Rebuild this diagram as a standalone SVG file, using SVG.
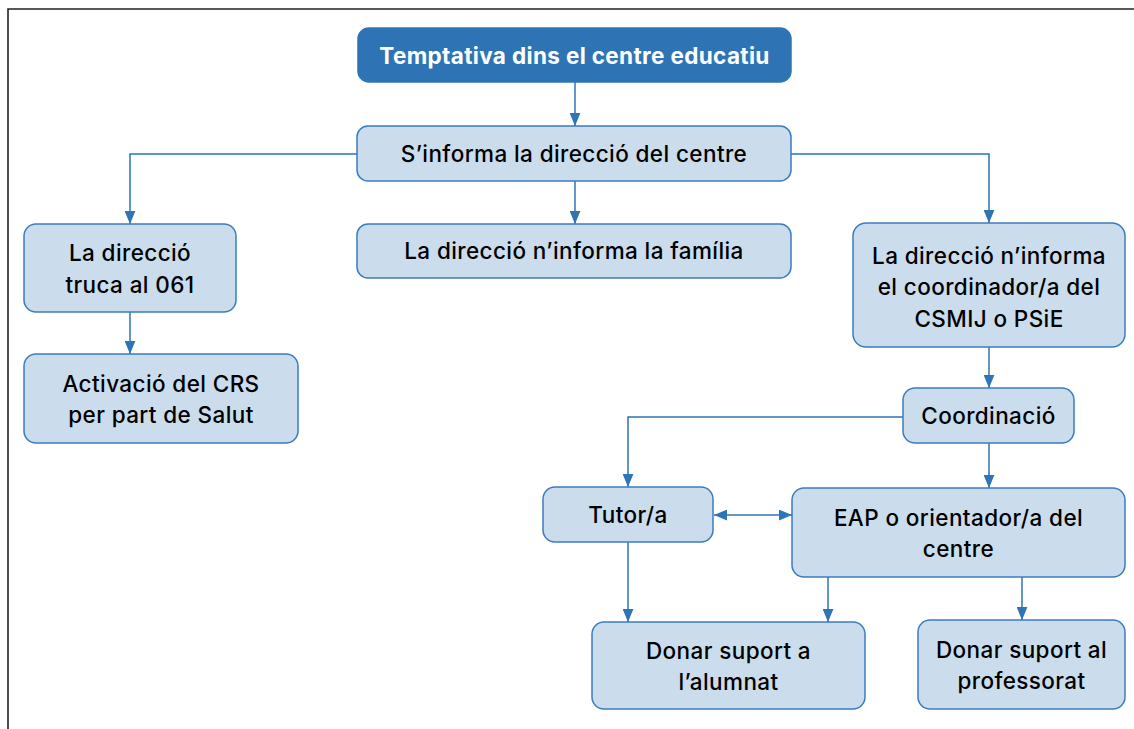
<svg xmlns="http://www.w3.org/2000/svg" width="1134" height="729" viewBox="0 0 1134 729">
<defs>
<marker id="arr" viewBox="0 0 12 10" refX="12" refY="5" markerWidth="13" markerHeight="11" markerUnits="userSpaceOnUse" orient="auto-start-reverse">
<path d="M0,0 L12,5 L0,10 z" fill="#2e75b6"/>
</marker>
<style>
.box{fill:#cbdcec;stroke:#3b7cc0;stroke-width:1.5}
.top{fill:#2e74b5;stroke:#2e74b5;stroke-width:1.5}
.t{font-family:Inter,"Liberation Sans",Arial,sans-serif;font-size:22.5px;font-weight:500;letter-spacing:0.4px;fill:#000;text-anchor:middle}
.tt{font-family:Inter,"Liberation Sans",Arial,sans-serif;font-size:22.5px;font-weight:700;letter-spacing:0.35px;fill:#fff;text-anchor:middle}
.c{fill:none;stroke:#2e75b6;stroke-width:1.5}
</style>
</defs>
<rect width="1134" height="729" fill="#fff"/>
<path d="M8,729 V9 H1134" fill="none" stroke="#222" stroke-width="1.6"/>
<g id="connectors">
<path class="c" d="M575,82 V126" marker-end="url(#arr)"/>
<path class="c" d="M357,154 H130 V224" marker-end="url(#arr)"/>
<path class="c" d="M575,181 V224" marker-end="url(#arr)"/>
<path class="c" d="M791,154 H989 V223" marker-end="url(#arr)"/>
<path class="c" d="M130,312 V354" marker-end="url(#arr)"/>
<path class="c" d="M989,347 V388" marker-end="url(#arr)"/>
<path class="c" d="M903,417 H628 V487" marker-end="url(#arr)"/>
<path class="c" d="M989,443 V488" marker-end="url(#arr)"/>
<path class="c" d="M714,515 H792" marker-start="url(#arr)" marker-end="url(#arr)"/>
<path class="c" d="M628,542 V622" marker-end="url(#arr)"/>
<path class="c" d="M828,577 V622" marker-end="url(#arr)"/>
<path class="c" d="M1022,577 V620" marker-end="url(#arr)"/>
</g>
<g id="n-top">
<rect class="top" x="358" y="28" width="433" height="54" rx="11"/>
<text class="tt" x="574.5" y="63.5">Temptativa dins el centre educatiu</text>
</g>
<g id="n-informa">
<rect class="box" x="357" y="126" width="434" height="55" rx="11"/>
<text class="t" x="574" y="161.5">S’informa la direcció del centre</text>
</g>
<g id="n-truca">
<rect class="box" x="24" y="224" width="212" height="88" rx="12"/>
<text class="t" x="130" y="260.5">La direcció</text>
<text class="t" x="130" y="292.5">truca al 061</text>
</g>
<g id="n-familia">
<rect class="box" x="357" y="224" width="434" height="54" rx="11"/>
<text class="t" x="574" y="259">La direcció n’informa la família</text>
</g>
<g id="n-coordinador">
<rect class="box" x="853" y="223" width="272" height="124" rx="13"/>
<text class="t" x="989" y="263.5">La direcció n’informa</text>
<text class="t" x="989" y="295">el coordinador/a del</text>
<text class="t" x="989" y="326.5">CSMIJ o PSiE</text>
</g>
<g id="n-crs">
<rect class="box" x="24" y="354" width="274" height="89" rx="12"/>
<text class="t" x="161" y="391.5">Activació del CRS</text>
<text class="t" x="161" y="423">per part de Salut</text>
</g>
<g id="n-coordinacio">
<rect class="box" x="903" y="388" width="171" height="55" rx="12"/>
<text class="t" x="988.5" y="423.5">Coordinació</text>
</g>
<g id="n-tutor">
<rect class="box" x="543" y="487" width="170" height="55" rx="12"/>
<text class="t" x="628" y="522.5">Tutor/a</text>
</g>
<g id="n-eap">
<rect class="box" x="792" y="488" width="333" height="89" rx="12"/>
<text class="t" x="958.5" y="525.5">EAP o orientador/a del</text>
<text class="t" x="958.5" y="557">centre</text>
</g>
<g id="n-alumnat">
<rect class="box" x="592" y="622" width="273" height="87" rx="12"/>
<text class="t" x="728.5" y="658.5">Donar suport a</text>
<text class="t" x="728.5" y="690">l’alumnat</text>
</g>
<g id="n-professorat">
<rect class="box" x="918" y="620" width="207" height="89" rx="12"/>
<text class="t" x="1021.5" y="657.5">Donar suport al</text>
<text class="t" x="1021.5" y="689">professorat</text>
</g>
</svg>
